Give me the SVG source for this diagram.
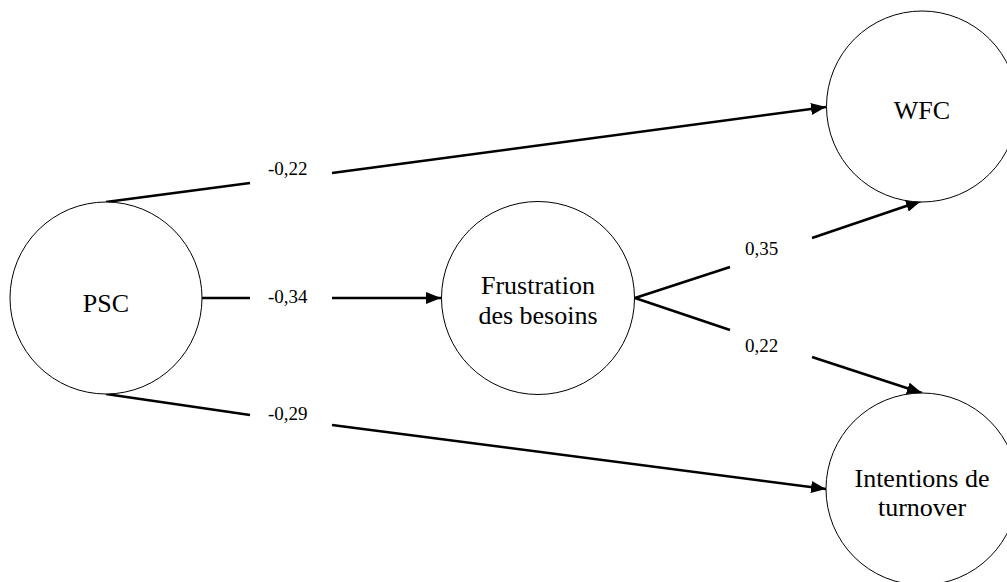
<svg xmlns="http://www.w3.org/2000/svg" width="1007" height="582" viewBox="0 0 1007 582">
<style>
.node{fill:#fff;stroke:#000;stroke-width:1}
.t{font-family:"Liberation Serif","Times New Roman",Times,"DejaVu Serif",serif;font-size:26px;fill:#000;text-anchor:middle}
.l{font-family:"Liberation Serif","Times New Roman",Times,"DejaVu Serif",serif;font-size:19px;fill:#000}
.c{fill:none;stroke:#000;stroke-width:2.6}
</style>
<defs>
<marker id="ah" markerUnits="userSpaceOnUse" markerWidth="16" markerHeight="14" refX="15" refY="6" orient="auto">
<path d="M0,0 L15,6 L0,12 Z" fill="#000"/>
</marker>
</defs>
<rect width="1007" height="582" fill="#fff"/>
<g id="connectors">
<path class="c" d="M106,202 L250,183"/>
<path class="c" d="M332,173 L826,107" marker-end="url(#ah)"/>
<path class="c" d="M202,298 L250,298"/>
<path class="c" d="M332,298 L441,298" marker-end="url(#ah)"/>
<path class="c" d="M106,394 L250,415"/>
<path class="c" d="M332,425 L826,489" marker-end="url(#ah)"/>
<path class="c" d="M635,298 L730,267"/>
<path class="c" d="M812,238 L921,201" marker-end="url(#ah)"/>
<path class="c" d="M635,298 L730,330"/>
<path class="c" d="M812,357 L922,393" marker-end="url(#ah)"/>
</g>
<g id="labels">
<text class="l" x="268" y="175">-0,22</text>
<text class="l" x="268" y="303">-0,34</text>
<text class="l" x="268" y="420">-0,29</text>
<text class="l" x="745" y="255">0,35</text>
<text class="l" x="745" y="352">0,22</text>
</g>
<g id="psc">
<circle class="node" cx="106" cy="298" r="96"/>
<text class="t" x="106" y="312">PSC</text>
</g>
<g id="frustration">
<circle class="node" cx="538" cy="298" r="96.5"/>
<text class="t" x="538" y="294">Frustration</text>
<text class="t" x="538" y="324">des besoins</text>
</g>
<g id="wfc">
<circle class="node" cx="922" cy="106.5" r="95.5"/>
<text class="t" x="922" y="119">WFC</text>
</g>
<g id="turnover">
<circle class="node" cx="922" cy="489" r="96"/>
<text class="t" x="922" y="487">Intentions de</text>
<text class="t" x="922" y="516">turnover</text>
</g>
</svg>
